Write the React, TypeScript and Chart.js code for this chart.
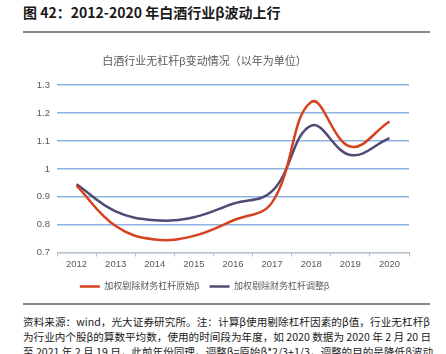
import React, { useEffect, useRef } from "react";
import { Chart, registerables } from "chart.js";

Chart.register(...registerables);

const years = ["2012", "2013", "2014", "2015", "2016", "2017", "2018", "2019", "2020"];
const rawBeta = [0.94, 0.795, 0.747, 0.76, 0.815, 0.88, 1.24, 1.08, 1.17];
const adjBeta = [0.945, 0.848, 0.816, 0.827, 0.875, 0.92, 1.155, 1.05, 1.11];
const seriesNames = ["加权剔除财务杠杆原始β", "加权剔除财务杠杆调整β"];
const chartTitle = "白酒行业无杠杆β变动情况（以年为单位）";
const figureTitle = "图 42：2012-2020 年白酒行业β波动上行";
const noteLines = [
  "资料来源：wind，光大证券研究所。注：计算β使用剔除杠杆因素的β值，行业无杠杆β",
  "为行业内个股β的算数平均数，使用的时间段为年度，如 2020 数据为 2020 年 2 月 20 日",
  "至 2021 年 2 月 19 日，此前年份同理。调整β=原始β*2/3+1/3，调整的目的是降低β波动",
];

const FONT = '"Liberation Sans", "Noto Sans CJK SC", sans-serif';

export default function App() {
  const ref = useRef<HTMLCanvasElement | null>(null);

  useEffect(() => {
    if (!ref.current) return;
    const chart = new Chart(ref.current, {
      type: "line",
      data: {
        labels: years,
        datasets: [
          {
            label: seriesNames[0],
            data: rawBeta,
            borderColor: "#D6421E",
            backgroundColor: "#D6421E",
            borderWidth: 2.5,
            pointRadius: 0,
            tension: 0.4,
          },
          {
            label: seriesNames[1],
            data: adjBeta,
            borderColor: "#4F4B75",
            backgroundColor: "#4F4B75",
            borderWidth: 2.5,
            pointRadius: 0,
            tension: 0.4,
          },
        ],
      },
      options: {
        animation: false,
        responsive: false,
        maintainAspectRatio: false,
        layout: { padding: { left: 0, right: 37, top: 0, bottom: 2 } },
        plugins: {
          title: {
            display: true,
            text: chartTitle,
            color: "#595959",
            font: { family: FONT, size: 11, weight: "normal" },
            padding: { top: 15, bottom: 17 },
          },
          legend: {
            position: "bottom",
            labels: {
              usePointStyle: true,
              pointStyle: "line",
              pointStyleWidth: 20,
              color: "#595959",
              font: { family: FONT, size: 9 },
              padding: 10,
            },
          },
          tooltip: { enabled: false },
        },
        scales: {
          x: {
            offset: true,
            grid: {
              offset: true,
              drawOnChartArea: false,
              drawTicks: true,
              tickLength: 4,
              color: "#BFBFBF",
            },
            border: { color: "#BFBFBF", width: 1 },
            ticks: {
              color: "#595959",
              font: { family: FONT, size: 9.5 },
              padding: 2,
              maxRotation: 0,
            },
          },
          y: {
            min: 0.7,
            max: 1.3,
            afterFit: (s: any) => {
              s.width = 57;
            },
            grid: { color: "#8DB3E2", lineWidth: 1.5, drawTicks: false },
            border: { display: false },
            ticks: {
              stepSize: 0.1,
              color: "#595959",
              font: { family: FONT, size: 9.5 },
              padding: 7,
              callback: (v: any) => String(parseFloat(Number(v).toFixed(1))),
            },
          },
        },
      },
    });
    return () => chart.destroy();
  }, []);

  return (
    <div
      style={{
        position: "absolute",
        left: 0,
        top: 0,
        width: 446,
        height: 354,
        overflow: "hidden",
        background: "#fff",
        fontFamily: '"Noto Sans CJK SC", sans-serif',
      }}
    >
      <div
        style={{
          position: "absolute",
          left: 23,
          top: 2,
          fontSize: 14,
          fontWeight: "bold",
          color: "#1a1a1a",
          lineHeight: "20px",
          whiteSpace: "nowrap",
        }}
      >
        {figureTitle}
      </div>
      <div style={{ position: "absolute", left: 23, top: 31, width: 407, height: 1.5, background: "#8a8a8a" }} />
      <canvas ref={ref} width={446} height={263} style={{ position: "absolute", left: 0, top: 40, width: 446, height: 263 }} />
      <div style={{ position: "absolute", left: 23, top: 303, width: 407, height: 1.5, background: "#8a8a8a" }} />
      {noteLines.map((t, i) => (
        <div
          key={i}
          style={{
            position: "absolute",
            left: 23,
            top: 314 + i * 15,
            width: 407,
            fontSize: 10.6,
            lineHeight: "16px",
            color: "#1a1a1a",
            whiteSpace: "nowrap",
            textAlign: "justify",
            textAlignLast: "justify",
          }}
        >
          {t}
        </div>
      ))}
    </div>
  );
}
